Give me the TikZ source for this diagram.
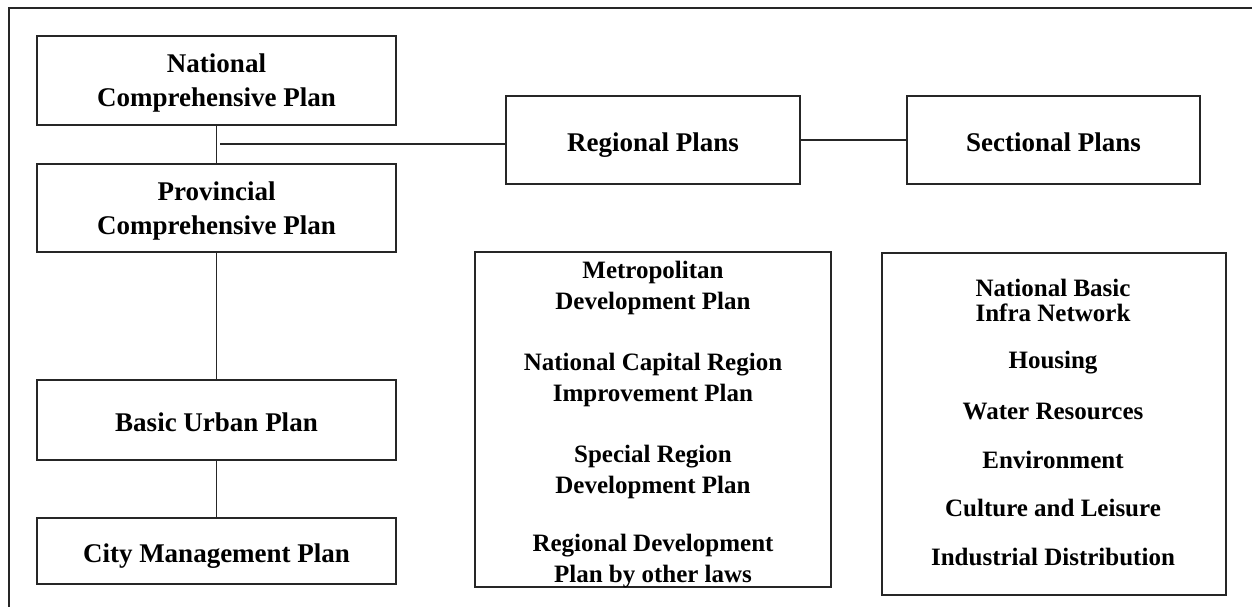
\documentclass[tikz,border=0pt]{standalone}
\usepackage{fontspec}
\setmainfont{Liberation Serif}
\begin{document}
\begin{tikzpicture}[x=1pt,y=-1pt,
  ink/.style={draw=black!85},
  box/.style={ink, line width=1.4pt, rectangle, inner sep=0pt, align=center,
    font=\bfseries\fontsize{27}{34}\selectfont},
  one/.style={text height=23pt, text depth=0pt},
  two/.style={text depth=-9pt},
  lbl/.style={inner sep=0pt, align=center, font=\bfseries\fontsize{25}{31}\selectfont},
  conn/.style={ink, line width=1.2pt}]
\useasboundingbox (0,0) rectangle (1252,607);
% outer frame (only top and left visible)
\draw[ink, line width=1.8pt] (9,607) -- (9,8) -- (1252,8);
% left column
\node[box, two, minimum width=359pt, minimum height=89pt] (nat) at (216.5,80.5) {National\\Comprehensive Plan};
\node[box, two, minimum width=359pt, minimum height=88pt] (prov) at (216.5,208) {Provincial\\Comprehensive Plan};
\node[box, one, minimum width=359pt, minimum height=80pt] (basic) at (216.5,420) {Basic Urban Plan};
\node[box, one, minimum width=359pt, minimum height=66pt] (city) at (216.5,551) {City Management Plan};
% top right
\node[box, one, minimum width=294pt, minimum height=88pt] (reg) at (653,140) {Regional Plans};
\node[box, one, minimum width=293pt, minimum height=88pt] (sec) at (1053.5,140) {Sectional Plans};
% lower boxes
\node[box, minimum width=356pt, minimum height=335pt] (metro) at (653,419.5) {};
\node[box, minimum width=344pt, minimum height=342pt] (sect) at (1054,424) {};
% metro texts
\node[lbl] (m1) at (653,288) {Metropolitan\\Development Plan};
\node[lbl] (m2) at (653,380) {National Capital Region\\Improvement Plan};
\node[lbl] (m3) at (653,472) {Special Region\\Development Plan};
\node[lbl] (m4) at (653,561) {Regional Development\\Plan by other laws};
% sectional texts
\node[lbl, font=\bfseries\fontsize{25}{25}\selectfont] (r1) at (1053,300) {National Basic\\Infra Network};
\node[lbl] (r2) at (1053,363) {Housing};
\node[lbl] (r3) at (1053,412) {Water Resources};
\node[lbl] (r4) at (1053,460) {Environment};
\node[lbl] (r5) at (1053,508) {Culture and Leisure};
\node[lbl] (r6) at (1053,557) {Industrial Distribution};
% connectors
\draw[conn] (nat) -- (prov);
\coordinate (j) at (220,144);
\draw[conn] (j) -- (j -| reg.west);
\draw[conn] (reg) -- (sec);
\draw[conn] (prov) -- (basic);
\draw[conn] (basic) -- (city);
\end{tikzpicture}
\end{document}
